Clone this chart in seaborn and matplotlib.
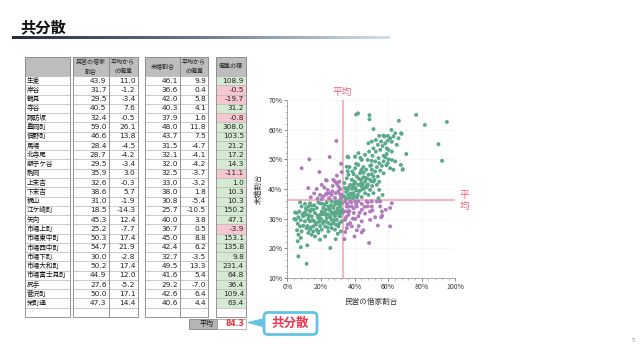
import numpy as np
import pandas as pd
import matplotlib
matplotlib.use("Agg")
import matplotlib.pyplot as plt
import matplotlib.ticker as mticker
from matplotlib.patches import Rectangle, FancyBboxPatch, Polygon
from matplotlib.colors import LinearSegmentedColormap
import seaborn as sns

sns.set_theme(style="white")
plt.rcParams['font.family'] = ['Noto Sans CJK JP', 'DejaVu Sans']

# ---- table data ----
towns = ["生麦", "岸谷", "鶴見", "寺谷", "諏訪坂", "豊岡町", "佃野町", "馬場", "北寺尾",
         "獅子ケ谷", "駒岡", "上末吉", "下末吉", "梶山", "江ケ崎町", "矢向", "市場上町",
         "市場東中町", "市場西中町", "市場下町", "市場大和町", "市場富士見町", "尻手",
         "菅沢町", "栄町通"]
rent_rate = [43.9, 31.7, 29.5, 40.5, 32.4, 59.0, 46.6, 28.4, 28.7, 29.5, 35.9, 32.6, 38.6,
             31.0, 18.5, 45.3, 25.2, 50.3, 54.7, 30.0, 50.2, 44.9, 27.6, 50.0, 47.3]
rent_dev = [11.0, -1.2, -3.4, 7.6, -0.5, 26.1, 13.8, -4.5, -4.2, -3.4, 3.0, -0.3, 5.7,
            -1.9, -14.3, 12.4, -7.7, 17.4, 21.9, -2.8, 17.4, 12.0, -5.2, 17.1, 14.4]
unmarried_rate = [46.1, 36.6, 42.0, 40.3, 37.9, 48.0, 43.7, 31.5, 32.1, 32.0, 32.5, 33.0, 38.0,
                  30.8, 25.7, 40.0, 36.7, 45.0, 42.4, 32.7, 49.5, 41.6, 29.2, 42.6, 40.6]
unmarried_dev = [9.9, 0.4, 5.8, 4.1, 1.6, 11.8, 7.5, -4.7, -4.1, -4.2, -3.7, -3.2, 1.8,
                 -5.4, -10.5, 3.8, 0.5, 8.8, 6.2, -3.5, 13.3, 5.4, -7.0, 6.4, 4.4]
dev_product = [108.9, -0.5, -19.7, 31.2, -0.8, 308.0, 103.5, 21.2, 17.2, 14.3, -11.1, 1.0, 10.3,
               10.3, 150.2, 47.1, -3.9, 153.1, 135.8, 9.8, 231.4, 64.8, 36.4, 109.4, 63.4]
covariance = 84.3
MEAN_X = 32.9
MEAN_Y = 36.2

# ---- scatter data ----
ll_x = [5.6, 6.6, 5.0, 6.2, 7.6, 5.8, 6.6, 8.0, 9.5, 10.5, 11.5, 12.5, 13.5, 14.5, 15.5, 16.5,
        14.5, 12.5, 10.5, 9.5, 11.5, 13.5, 15.5, 17.5, 18.5, 19.5, 20.5, 21.5, 22.5, 23.5, 24.5,
        25.4, 26.4, 27.4, 28.4, 29.4, 30.4, 31.4, 32.0, 30.4, 28.4, 26.4, 24.5, 22.5, 20.5, 18.5,
        16.5, 14.5, 12.5, 21.5, 23.5, 25.4, 27.4, 29.4, 31.4, 32.4, 30.4, 28.4, 26.4, 24.5, 22.5,
        19.5, 17.5, 15.5, 8.5, 7.6, 10.5, 13.5, 17.5, 19.5, 26.4, 32.4, 22.9, 21.1, 16.1, 13.5,
        11.5, 8.5, 6.2, 6.6, 11.5, 8.0, 11.9, 25.6, 28.8, 4.6, 4.2, 7.2, 32.8, 31.8, 30.0,
        18.0, 19.0, 20.0, 21.0, 22.0, 23.0, 24.0, 25.0, 26.0, 27.0, 28.0, 29.0, 30.0, 31.0, 24.0,
        26.0, 27.5, 29.0, 31.0, 19.5, 17.0, 15.0, 13.0, 14.0, 16.0, 18.5, 21.0, 11.0, 9.0, 8.0,
        12.0, 14.0, 23.0, 25.5, 28.5, 31.5, 28.4, 28.7, 29.5, 32.6, 31.0, 18.5, 30.0, 27.6]
ll_y = [31.9, 30.5, 29.6, 28.3, 27.4, 26.1, 24.6, 23.5, 30.8, 32.1, 33.0, 34.1, 35.2, 34.4, 33.0, 31.9,
        30.8, 29.9, 29.1, 27.6, 26.8, 26.3, 27.4, 28.5, 30.2, 31.3, 32.4, 33.6, 34.7, 35.5, 34.1,
        32.8, 31.9, 33.6, 34.7, 35.8, 35.0, 34.1, 32.8, 31.9, 30.8, 29.6, 28.5, 27.4, 26.3, 25.2,
        24.0, 24.6, 25.2, 29.1, 30.2, 30.8, 28.5, 29.6, 30.8, 29.1, 27.4, 26.3, 26.8, 25.7, 24.0,
        22.9, 26.3, 25.7, 34.1, 35.5, 35.0, 32.4, 33.6, 35.2, 35.8, 35.2, 31.3, 28.5, 29.1, 29.1,
        31.3, 25.7, 22.4, 17.3, 14.8, 20.4, 21.0, 20.1, 23.1, 32.1, 29.9, 32.4, 31.9, 25.7, 24.9,
        31.0, 29.0, 30.0, 31.5, 32.0, 33.0, 31.5, 33.5, 34.5, 32.0, 31.0, 32.5, 33.5, 32.0, 27.0,
        28.0, 29.5, 28.0, 28.5, 27.5, 28.0, 29.5, 31.0, 33.0, 34.5, 35.5, 35.0, 33.5, 31.5, 29.5,
        27.5, 27.0, 29.0, 30.5, 35.5, 36.0, 31.5, 32.1, 32.0, 33.0, 30.8, 25.7, 32.7, 29.2]

ul_x = [8.5, 13.1, 12.5, 19.1, 25.2, 29.2, 32.0, 32.4, 23.0, 23.5, 20.5, 27.4, 28.4, 29.4, 30.4,
        24.0, 25.2, 26.8, 23.0, 19.5, 21.5, 23.5, 26.4, 28.8, 30.4, 31.4, 18.0, 20.5, 24.8, 28.4,
        32.0, 16.0, 14.0, 17.5, 22.0, 27.0, 31.0, 29.5, 31.5, 32.5, 31.7, 29.5, 32.4, 25.2]
ul_y = [47.0, 50.0, 40.3, 45.7, 50.8, 56.2, 48.5, 45.7, 43.0, 42.8, 41.4, 43.1, 42.5, 41.8, 40.9,
        39.7, 38.6, 39.2, 38.2, 38.0, 37.5, 38.4, 38.0, 38.6, 39.2, 38.2, 36.8, 36.6, 36.9, 37.0,
        37.0, 38.5, 37.2, 40.0, 40.5, 41.0, 42.5, 44.5, 40.0, 38.0, 36.6, 42.0, 37.9, 36.7]

lr_x = [34.4, 37.4, 40.4, 42.3, 47.3, 50.3, 53.3, 55.3, 44.3, 35.4, 38.4, 41.4, 47.9, 55.3, 44.3,
        50.7, 34.0, 36.4, 39.6, 42.3, 46.3, 49.3, 34.4, 37.4, 40.4, 44.3, 49.3, 52.3, 56.3, 58.6,
        35.4, 38.4, 41.4, 44.3, 34.0, 45.3, 53.9, 61.2, 62.2, 61.2, 48.7, 56.5, 55.9, 50.3,
        35.5, 36.5, 38.0, 39.5, 41.0, 37.0, 35.0, 43.0, 46.0, 48.0, 36.0, 39.0, 42.5, 40.0, 34.5,
        35.9]
lr_y = [35.8, 35.8, 35.8, 35.8, 35.8, 35.8, 35.8, 35.8, 35.0, 34.1, 34.1, 34.1, 34.1, 34.1, 33.0,
        32.8, 32.4, 31.3, 31.9, 30.8, 31.7, 32.4, 29.6, 28.5, 29.9, 29.1, 29.6, 30.5, 32.4, 33.0,
        26.8, 27.4, 26.1, 25.4, 23.1, 26.1, 27.7, 27.4, 35.2, 33.6, 21.8, 31.0, 30.5, 34.1,
        35.0, 34.0, 35.5, 33.5, 34.8, 32.5, 30.5, 32.0, 34.0, 35.5, 28.0, 30.0, 27.5, 24.0, 25.5,
        32.5]

ur_x = [35.4, 36.4, 38.4, 40.0, 37.4, 34.4, 36.0, 38.8, 40.4, 42.3, 43.9, 41.4, 43.3, 45.3, 46.3,
        44.3, 47.3, 49.3, 48.3, 50.3, 51.3, 52.3, 53.3, 54.7, 56.3, 57.3, 58.3, 59.2, 60.2, 54.3,
        52.3, 49.3, 47.9, 50.7, 52.7, 55.3, 56.7, 58.3, 59.8, 61.2, 62.2, 63.2, 57.9, 55.9, 53.9,
        51.3, 48.7, 48.3, 50.3, 52.7, 54.7, 64.2, 66.2, 67.8, 65.2, 59.2, 60.2, 62.2, 57.3, 59.8,
        62.2, 64.2, 61.2, 63.2, 67.6, 68.8, 55.3, 57.3, 53.9, 51.3, 53.3, 54.7, 49.3, 46.3, 42.7,
        39.4, 36.4, 34.0, 40.4, 44.3, 48.3, 51.3, 54.3, 56.7, 40.4, 44.3, 40.4, 38.8, 37.0, 42.3,
        45.3, 40.4, 36.4, 42.3, 46.3, 44.3,
        41.0, 42.1, 48.9, 48.9, 51.3, 66.4, 76.7, 95.0, 81.9, 90.0, 92.1, 70.8, 68.6, 62.0, 68.0,
        57.2, 59.9, 35.8, 40.4, 35.4,
        35.0, 36.5, 37.5, 38.5, 39.5, 41.0, 42.0, 43.5, 45.0, 46.5, 47.5, 34.0, 35.0, 37.0, 39.0,
        41.5, 44.0, 45.5, 42.5, 39.5, 36.0, 41.0, 43.5, 47.0, 50.0, 52.0, 50.5, 48.0,
        43.9, 40.5, 59.0, 46.6, 38.6, 45.3, 50.3, 54.7, 50.2, 44.9, 50.0, 47.3]
ur_y = [43.6, 44.8, 43.1, 42.5, 41.4, 40.3, 39.7, 41.1, 40.3, 41.4, 43.1, 44.2, 45.3, 44.0, 42.5,
        40.9, 41.1, 43.1, 44.8, 46.5, 44.2, 45.9, 47.4, 48.7, 47.8, 49.3, 50.7, 51.8, 50.0, 50.4,
        49.3, 47.8, 49.8, 51.2, 52.6, 53.2, 54.5, 55.4, 56.3, 57.1, 55.9, 57.7, 57.7, 56.0, 54.9,
        53.7, 52.6, 55.4, 56.0, 56.5, 57.9, 58.8, 57.1, 58.8, 54.9, 53.7, 53.2, 52.6, 51.2, 48.7,
        49.8, 49.3, 47.0, 46.5, 48.1, 46.7, 46.2, 45.3, 44.2, 42.5, 41.4, 39.7, 39.7, 38.6, 39.2,
        38.6, 38.0, 37.5, 37.5, 37.3, 38.0, 38.6, 36.9, 38.0, 42.0, 46.5, 47.0, 45.9, 47.4, 48.1,
        47.4, 50.9, 50.7, 52.1, 51.5, 49.8,
        65.1, 65.5, 64.9, 63.5, 60.2, 63.0, 65.0, 62.6, 61.6, 55.1, 49.5, 51.8, 46.5, 59.9, 58.6,
        58.0, 57.9, 50.9, 50.9, 47.5,
        39.0, 40.5, 38.5, 40.0, 41.5, 39.5, 38.0, 39.5, 40.0, 40.5, 43.5, 42.0, 36.8, 37.0, 36.9,
        37.2, 42.0, 45.5, 43.5, 45.0, 46.0, 48.5, 50.5, 46.5, 48.0, 43.0, 41.0, 41.5,
        46.1, 40.3, 48.0, 43.7, 38.0, 40.0, 45.0, 42.4, 49.5, 41.6, 42.6, 40.6]

GREEN = '#5aa98b'
PURPLE = '#b07abd'
PINK_LINE = '#f4b6c3'
LABEL_RED = '#e9647b'

fig = plt.figure(figsize=(6.4, 3.58), dpi=100)
fig.patch.set_facecolor('white')

# overlay axes in pixel units for the slide parts
ov = fig.add_axes([0, 0, 1, 1])
ov.axis('off')

# title + gradient rule
ov.text(20, 27, "共分散", fontsize=11, fontweight='bold', va='center', ha='left', color='#111')
grad = np.linspace(0, 1, 256).reshape(1, -1)
cmap = LinearSegmentedColormap.from_list('rule', ['#262b40', '#6d7a92', '#d5e0ee'])
ov.imshow(grad, extent=(12, 390, 39.2, 36.6), aspect='auto', cmap=cmap)

# table
cols = [(25, 69.5), (72.5, 108.5), (108.5, 137.5), (145, 180), (180, 208), (216, 246)]
head_top, head_bot = 56.5, 76.0
row_h = 9.27
n_rows = len(towns) + 1
headers = ["", "民営の借家\n割合", "平均から\nの偏差", "未婚割合", "平均から\nの偏差", "偏差の積"]
col_data = [towns, rent_rate, rent_dev, unmarried_rate, unmarried_dev, dev_product]

for (x0, x1), h in zip(cols, headers):
    ov.add_patch(Rectangle((x0, head_top), x1 - x0, head_bot - head_top,
                           fc='#bdbdbd', ec='#8c8c8c', lw=0.5))
    if h:
        ov.text((x0 + x1) / 2, (head_top + head_bot) / 2, h, fontsize=4.3,
                ha='center', va='center', linespacing=1.7, color='#222')

for c, ((x0, x1), vals) in enumerate(zip(cols, col_data)):
    for r in range(n_rows):
        y0 = head_bot + r * row_h
        fc = 'white'
        if r < len(vals):
            v = vals[r]
            if c == 5:
                fc = '#d5ebd1' if v >= 0 else '#f6c6d1'
        ov.add_patch(Rectangle((x0, y0), x1 - x0, row_h, fc=fc, ec='#b4b4b4', lw=0.4))
        yc = y0 + row_h / 2
        if r < len(vals):
            if c == 0:
                ov.text(x0 + 2, yc, vals[r], fontsize=4.8, ha='left', va='center', color='#111')
            else:
                ov.text(x1 - 2, yc, f"{vals[r]:.1f}", fontsize=5.3, ha='right', va='center',
                        color='#222', family='DejaVu Sans')
        else:
            if c == 0:
                ov.text(x0 + 2, yc, "…", fontsize=4, ha='left', va='center', color='#888')
            else:
                ov.text(x1 - 2, yc, "…", fontsize=4, ha='right', va='center', color='#aaa')
    ov.add_patch(Rectangle((x0, head_top), x1 - x0, head_bot + n_rows * row_h - head_top,
                           fill=False, ec='#8c8c8c', lw=0.6))

# average row
avg_top = head_bot + n_rows * row_h + 1.5
ov.add_patch(Rectangle((189, avg_top), 28, 10, fc='#b5b5b5', ec='#777', lw=0.5))
ov.text(214, avg_top + 5, "平均", fontsize=5, ha='right', va='center', color='#111')
ov.add_patch(Rectangle((217, avg_top), 29, 10, fc='white', ec='#999', lw=0.5))
ov.text(244, avg_top + 5, f"{covariance:.1f}", fontsize=5.5, ha='right', va='center',
        color='#e4363f', fontweight='bold', family='DejaVu Sans')

# callout
ov.add_patch(Polygon([(265, 318.5), (248, 322.5), (265, 327)], closed=True,
                     fc='#62c3e4', ec='#62c3e4', lw=0.8))
ov.add_patch(FancyBboxPatch((264, 312.5), 53, 22, boxstyle="round,pad=0,rounding_size=4",
                            fc='white', ec='#62c3e4', lw=2))
ov.text(290.5, 323.5, "共分散", fontsize=9, fontweight='bold', ha='center', va='center',
        color='#e8384f')

ov.text(633, 341, "5", fontsize=4, ha='center', va='center', color='#888')

ov.set_xlim(0, 640)
ov.set_ylim(358, 0)

# scatter
ax = fig.add_axes([287.3 / 640, 1 - 278 / 358, 168 / 640, 178 / 358])
df = pd.DataFrame({
    'rent': ll_x + ul_x + lr_x + ur_x,
    'unmarried': ll_y + ul_y + lr_y + ur_y,
})
df['sign'] = np.where((df['rent'] - MEAN_X) * (df['unmarried'] - MEAN_Y) >= 0, 'pos', 'neg')

ax.axvline(MEAN_X, color=PINK_LINE, lw=1.5, zorder=1)
ax.axhline(MEAN_Y, color=PINK_LINE, lw=1.5, zorder=1)
sns.scatterplot(data=df, x='rent', y='unmarried', hue='sign',
                palette={'pos': GREEN, 'neg': PURPLE}, s=8, linewidth=0,
                legend=False, ax=ax, zorder=3)

ax.set_xlim(0, 100)
ax.set_ylim(10, 70)
ax.xaxis.set_major_locator(mticker.MultipleLocator(20))
ax.yaxis.set_major_locator(mticker.MultipleLocator(10))
ax.xaxis.set_minor_locator(mticker.MultipleLocator(4))
ax.yaxis.set_minor_locator(mticker.MultipleLocator(2))
ax.xaxis.set_major_formatter(mticker.FuncFormatter(lambda v, p: f"{v:.0f}%"))
ax.yaxis.set_major_formatter(mticker.FuncFormatter(lambda v, p: f"{v:.0f}%"))
ax.tick_params(which='major', labelsize=5, colors='#555', length=2, width=0.5, pad=1.5,
               labelcolor='#333', bottom=True, left=True)
ax.tick_params(which='minor', length=1.2, width=0.4, colors='#888', bottom=True, left=True)
ax.grid(True, which='major', color='#e2e2e2', lw=0.5, ls=':')
for s in ['top', 'right']:
    ax.spines[s].set_visible(False)
for s in ['left', 'bottom']:
    ax.spines[s].set_color('#999')
    ax.spines[s].set_linewidth(0.6)
ax.set_xlabel("民営の借家割合", fontsize=5.5, color='#333', labelpad=5)
ax.set_ylabel("未婚割合", fontsize=5.5, color='#333', labelpad=4)
ax.set_facecolor('none')

ax.text(MEAN_X, 72.8, "平均", color=LABEL_RED, fontsize=7, ha='center', va='center',
        clip_on=False)
ax.text(105.3, MEAN_Y, "平\n均", color=LABEL_RED, fontsize=7, ha='center', va='center',
        linespacing=1.1, clip_on=False)

fig.savefig('out.png', dpi=100)
